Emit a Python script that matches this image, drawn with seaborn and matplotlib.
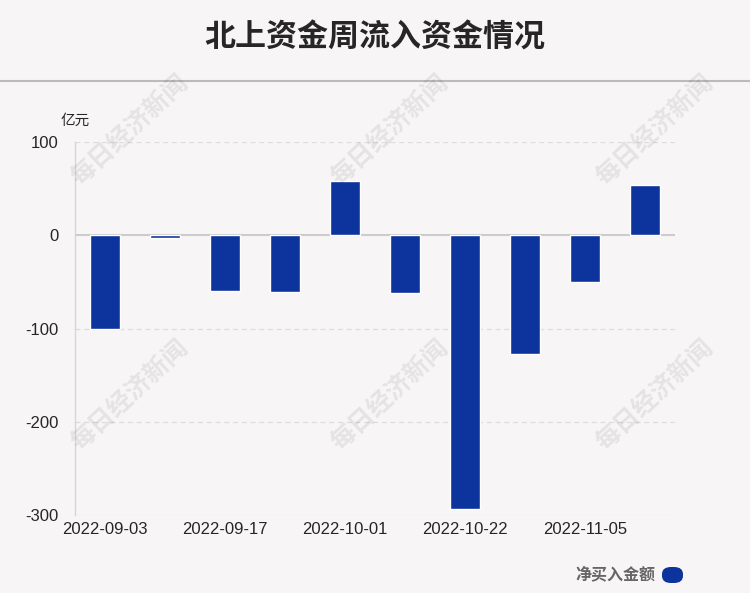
import matplotlib
matplotlib.use("Agg")
import matplotlib.pyplot as plt
import seaborn as sns
import pandas as pd
from matplotlib.patches import FancyBboxPatch

## DATA
weeks = ["2022-09-03", "2022-09-10", "2022-09-17", "2022-09-24", "2022-10-01",
         "2022-10-15", "2022-10-22", "2022-10-29", "2022-11-05", "2022-11-12"]
net_buy = [-100, -2.5, -60, -61, 58, -62, -293.5, -127, -50.5, 54]
yticks = [100, 0, -100, -200, -300]

df = pd.DataFrame({"week": weeks, "net_buy": net_buy})

bg = "#f8f5f6"
bar_color = "#0d349c"

sns.set_style("white")
plt.rcParams['font.family'] = ['Liberation Sans', 'Noto Sans CJK SC', 'DejaVu Sans']

fig = plt.figure(figsize=(7.5, 5.93), dpi=100, facecolor=bg)
ax = fig.add_axes([0.1, 0.1315, 0.8, 0.629])
ax.set_facecolor(bg)

sns.barplot(data=df, x="week", y="net_buy", color=bar_color, width=0.5,
            saturation=1, ax=ax)

ax.set_xlim(-0.5, len(weeks) - 0.5)
ax.set_ylim(-300, 100)
ax.set_yticks(yticks)
ax.set_yticklabels([str(v) for v in yticks], fontsize=12)
ax.set_xticks(range(0, len(weeks), 2))
ax.set_xticklabels(weeks[::2], fontsize=12)
ax.tick_params(axis='both', length=0)
ax.tick_params(axis='y', pad=12)
ax.tick_params(axis='x', pad=5)
ax.set_xlabel("")
ax.set_ylabel("")

# grid + axes
for v in yticks:
    if v != 0:
        ax.axhline(v, color="#dddddd", lw=0.9, ls=(0, (4, 3)), zorder=0)
ax.axhline(0, color="#cccccc", lw=1.5, zorder=0.5)
for s in ["top", "right", "bottom"]:
    ax.spines[s].set_visible(False)
ax.spines["left"].set_color("#d6d6d6")
ax.spines["left"].set_linewidth(1)

# header
fig.text(0.5, 0.936, "北上资金周流入资金情况", ha="center", va="center",
         fontsize=22.3, fontweight="bold", family=['Noto Sans CJK SC', 'DejaVu Sans'])
fig.add_artist(plt.Line2D([0, 1], [0.8634, 0.8634], transform=fig.transFigure,
                          color="#bbbbbb", lw=1.5))
fig.text(0.081, 0.797, "亿元", ha="left", va="center", fontsize=10.5,
         family=['Noto Sans CJK SC', 'DejaVu Sans'])

# watermarks
for wx in [130, 390, 655]:
    for wy in [130, 395]:
        fig.text(wx / 750, 1 - wy / 593, "每日经济新闻", ha="center", va="center",
                 rotation=43, fontsize=18, fontweight="bold", color="#000000",
                 alpha=0.075, family=['Noto Sans CJK SC', 'DejaVu Sans'])

# legend
fig.text(655 / 750, 1 - 574 / 593, "净买入金额", ha="right", va="center",
         fontsize=11.5, fontweight="bold", color="#666666",
         family=['Noto Sans CJK SC', 'DejaVu Sans'])
fig.add_artist(FancyBboxPatch((662 / 750, 1 - 583 / 593), 21 / 750, 16 / 593,
                              boxstyle="round,pad=0,rounding_size=0.012",
                              transform=fig.transFigure, color=bar_color, lw=0))

fig.savefig("out.png", dpi=100, facecolor=bg)
